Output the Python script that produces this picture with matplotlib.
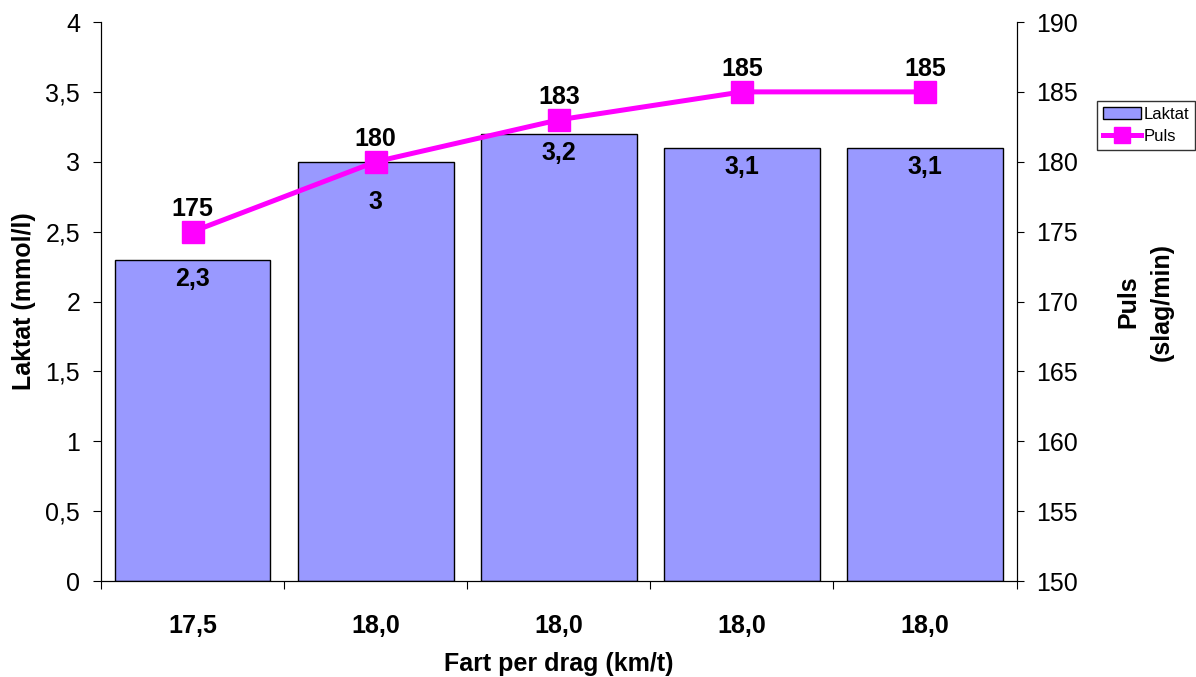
import numpy as np
import matplotlib.pyplot as plt

plt.rcParams['font.family'] = ['Liberation Sans', 'DejaVu Sans']

# data
fart = ['17,5', '18,0', '18,0', '18,0', '18,0']
laktat = [2.3, 3.0, 3.2, 3.1, 3.1]
puls = [175, 180, 183, 185, 185]

def komma(v):
    s = ('%g' % v)
    return s.replace('.', ',')

fig = plt.figure(figsize=(11.96, 6.77), dpi=100)
ax = fig.add_axes([0.0845, 0.1418, 0.7655, 0.8257])
ax2 = ax.twinx()

x = np.arange(len(fart))
bars = ax.bar(x, laktat, width=0.85, color='#9999ff', edgecolor='black',
              linewidth=1.0, label='Laktat', zorder=2)
ax.set_xlim(-0.5, len(fart) - 0.5)
ax.set_ylim(0, 4)
ax.set_yticks(np.arange(0, 4.01, 0.5))
ax.set_yticklabels([komma(v) for v in np.arange(0, 4.01, 0.5)], fontsize=18)

# x ticks at category boundaries, labels centred
ax.set_xticks(np.arange(-0.5, len(fart), 1.0))
ax.set_xticklabels([])
ax.set_xticks(x, minor=True)
ax.set_xticklabels(fart, minor=True, fontsize=18, fontweight='bold')
ax.tick_params(axis='x', which='minor', length=0, pad=24)
ax.tick_params(axis='x', which='major', length=6, direction='out')
ax.tick_params(axis='y', length=6, direction='out', pad=9)

line, = ax2.plot(x, puls, color='#ff00ff', linewidth=3.6, marker='s',
                 markersize=16.5, label='Puls', zorder=3)
ax2.set_ylim(150, 190)
ax2.set_yticks(range(150, 191, 5))
ax2.tick_params(axis='y', length=5, direction='out', labelsize=18, pad=9)
for xi, v in zip(x, puls):
    ax2.annotate(str(v), (xi, v), xytext=(0, 8), textcoords='offset points',
                 ha='center', va='bottom', fontsize=18, fontweight='bold')

# bar labels inside the top; pushed below the marker when they collide
lo, hi = ax2.get_ylim()
puls_i_laktat = [(p - lo) / (hi - lo) * 4 for p in puls]
for b, v, p in zip(bars, laktat, puls_i_laktat):
    dy = -20 if abs(p - v) < 0.05 else -5
    ax.annotate(komma(v), (b.get_x() + b.get_width() / 2, v),
                xytext=(0, dy), textcoords='offset points', ha='center',
                va='top', fontsize=18, fontweight='bold')

for a in (ax, ax2):
    a.spines['top'].set_visible(False)
ax.set_ylabel('Laktat (mmol/l)', fontsize=18, fontweight='bold', labelpad=7)
ax2.set_ylabel('Puls\n(slag/min)', fontsize=18, fontweight='bold',
               labelpad=28, linespacing=1.45)
ax.set_xlabel('Fart per drag (km/t)', fontsize=18, fontweight='bold', labelpad=10)

leg = fig.legend(handles=[bars, line], loc='upper left',
                 bbox_to_anchor=(1097 / 1196, 1 - 101 / 677), fontsize=12,
                 frameon=True, fancybox=False, edgecolor='black',
                 borderpad=0.35, handlelength=2.3, markerscale=0.7,
                 labelspacing=0.45, handletextpad=0.15, borderaxespad=0)
leg.get_frame().set_linewidth(1.0)

fig.savefig('out.png', dpi=100)
